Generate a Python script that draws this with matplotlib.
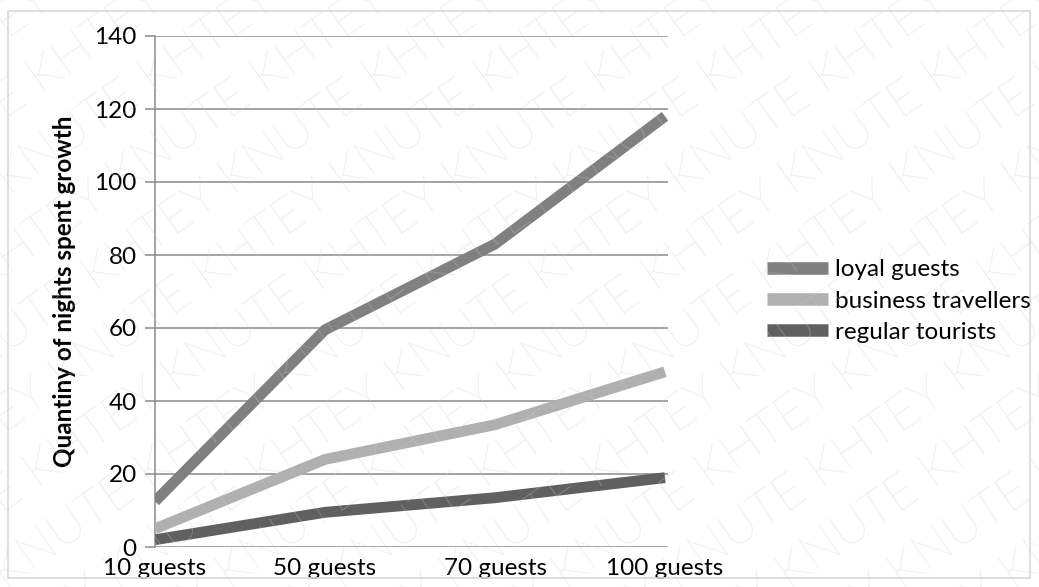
import matplotlib
matplotlib.use("Agg")
import matplotlib.pyplot as plt
from matplotlib.patches import Rectangle

categories = ["10 guests", "50 guests", "70 guests", "100 guests"]
loyal_guests = [12.5, 59.5, 83, 118]
business_travellers = [5, 24, 33.5, 48]
regular_tourists = [2, 9.5, 13.5, 19]
y_ticks = [0, 20, 40, 60, 80, 100, 120, 140]

series = [
    ("loyal guests", loyal_guests, "#808080"),
    ("business travellers", business_travellers, "#b0b0b0"),
    ("regular tourists", regular_tourists, "#606060"),
]

plt.rcParams["font.family"] = ["Lato", "DejaVu Sans"]
FS = 17.5

W, H = 1039, 587
fig = plt.figure(figsize=(W / 100, H / 100), dpi=100)
fig.patch.set_facecolor("white")

# outer chart border
fig.patches.append(Rectangle((8 / W, 1 - 578 / H), 1022 / W, 567 / H,
                             transform=fig.transFigure, fill=False,
                             edgecolor="#d9d9d9", linewidth=1.2, zorder=0))

ax = fig.add_axes([155 / W, 1 - 547 / H, (668 - 155) / W, (547 - 36) / H])
x = list(range(len(categories)))
for name, vals, col in series:
    ax.plot(x, vals, color=col, linewidth=7.8, solid_joinstyle="round",
            solid_capstyle="butt", label=name, zorder=3)

ax.set_ylim(0, 140)
ax.set_xlim(0, 3 * 513 / 510)
ax.set_yticks(y_ticks)
ax.set_xticks(x)
ax.set_xticklabels(categories)
ax.yaxis.grid(True, color="#8a8a8a", linewidth=1.1, zorder=1)
ax.set_axisbelow(True)
for s in ["top", "right", "bottom"]:
    ax.spines[s].set_visible(False)
ax.spines["left"].set_color("#8a8a8a")
ax.spines["left"].set_linewidth(1.1)
ax.tick_params(axis="y", length=7.2, width=1.1, color="#8a8a8a",
               labelsize=FS, pad=6, labelcolor="black")
ax.tick_params(axis="x", length=0, labelsize=FS, pad=8, labelcolor="black")
ax.set_ylabel("Quantiny of nights spent growth", fontsize=FS,
              fontweight="bold", labelpad=13)

leg = fig.legend(loc="center left", bbox_to_anchor=(767 / W, 1 - 301 / H),
                 frameon=False, fontsize=FS, handlelength=2.5,
                 handletextpad=0.3, labelspacing=0.42, borderaxespad=0,
                 borderpad=0)
for h in leg.get_lines():
    h.set_linewidth(9)

# watermark
wm = "KNUTE KHTEY " * 7
for i in range(-14, 11):
    px = 60 + i * 112
    py = -200
    fig.text(px / W, py / H, wm, fontsize=36, fontweight="light",
             color="#cccccc", alpha=0.55,
             rotation=35, rotation_mode="anchor", ha="left", va="baseline",
             zorder=10)

fig.savefig("out.png", dpi=100)
